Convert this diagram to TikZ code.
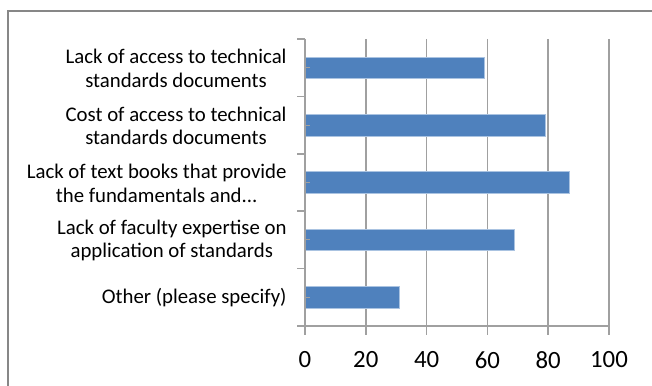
\documentclass[tikz,border=0pt]{standalone}
\usepackage{fontspec}
\setmainfont{Carlito}

\definecolor{barblue}{RGB}{79,129,189}
\definecolor{baredge}{RGB}{170,195,225}
\definecolor{gridgrey}{RGB}{160,160,160}
\definecolor{framegrey}{RGB}{135,135,135}

\tikzset{every picture/.style={line width=0.75pt}}
\tikzset{
  hbar/.style={fill=barblue, draw=baredge, line width=0.6pt},
  gridline/.style={draw=gridgrey, line width=1.2pt},
  catlabel/.style={anchor=east, align=center, inner sep=0pt, font=\fontsize{15.6}{17.5}\selectfont},
  ticklabel/.style={anchor=center, inner sep=0pt, font=\fontsize{18.6}{22}\selectfont}
}

\begin{document}
\begin{tikzpicture}[x=0.75pt,y=0.75pt,yscale=-1,xscale=1]
	\useasboundingbox (0,0) rectangle (652,385);
	
	%Shape: Frame
	\draw [draw=framegrey, line width=1.5pt]  (8,390) -- (8,11) -- (660,11) ;
	
	%Straight Lines: grid
	\draw [gridline]  (365.8,39) -- (365.8,335) ;
	\draw [gridline]  (426.6,39) -- (426.6,335) ;
	\draw [gridline]  (487.4,39) -- (487.4,335) ;
	\draw [gridline]  (548.2,39) -- (548.2,335) ;
	\draw [gridline]  (609,39) -- (609,335) ;
	
	%Shape: Rectangle bars
	\draw [hbar]  (305,57) rectangle (484.4,78.5) ;
	\draw [hbar]  (305,114.4) rectangle (545.2,135.9) ;
	\draw [hbar]  (305,171.8) rectangle (569.5,193.3) ;
	\draw [hbar]  (305,229.2) rectangle (514.8,250.7) ;
	\draw [hbar]  (305,286.6) rectangle (399.2,308.1) ;
	
	%Straight Lines: axes
	\draw [gridline]  (305,39) -- (305,335) ;
	\draw [gridline]  (297,326) -- (609,326) ;
	
	%Straight Lines: category ticks
	\draw [gridline]  (297,39) -- (305,39) ;
	\draw [gridline]  (297,96.4) -- (305,96.4) ;
	\draw [gridline]  (297,153.8) -- (305,153.8) ;
	\draw [gridline]  (297,211.2) -- (305,211.2) ;
	\draw [gridline]  (297,268.6) -- (305,268.6) ;
	\draw [gridline, line width=0.8pt]  (305,67.7) -- (310,67.7) ;
	\draw [gridline, line width=0.8pt]  (305,125.1) -- (310,125.1) ;
	\draw [gridline, line width=0.8pt]  (305,182.5) -- (310,182.5) ;
	\draw [gridline, line width=0.8pt]  (305,239.9) -- (310,239.9) ;
	\draw [gridline, line width=0.8pt]  (305,297.3) -- (310,297.3) ;
	
	% Text Node
	\node (access) [catlabel] at (287,68.5) {Lack of access to technical\\standards documents};
	% Text Node
	\node (cost) [catlabel] at (287,125.9) {Cost of access to technical\\standards documents};
	% Text Node
	\node (books) [catlabel] at (287,183.3) {Lack of text books that provide\\the fundamentals and...};
	% Text Node
	\node (faculty) [catlabel] at (287,240.7) {Lack of faculty expertise on\\application of standards};
	% Text Node
	\node (other) [catlabel] at (287,297.3) {Other (please specify)};
	
	% Text Node
	\node (t0) [ticklabel] at (305,360) {0};
	% Text Node
	\node (t20) [ticklabel] at (365.8,360) {20};
	% Text Node
	\node (t40) [ticklabel] at (426.6,360) {40};
	% Text Node
	\node (t60) [ticklabel] at (487.4,360) {60};
	% Text Node
	\node (t80) [ticklabel] at (548.2,360) {80};
	% Text Node
	\node (t100) [ticklabel] at (609,360) {100};
	
\end{tikzpicture}
\end{document}
